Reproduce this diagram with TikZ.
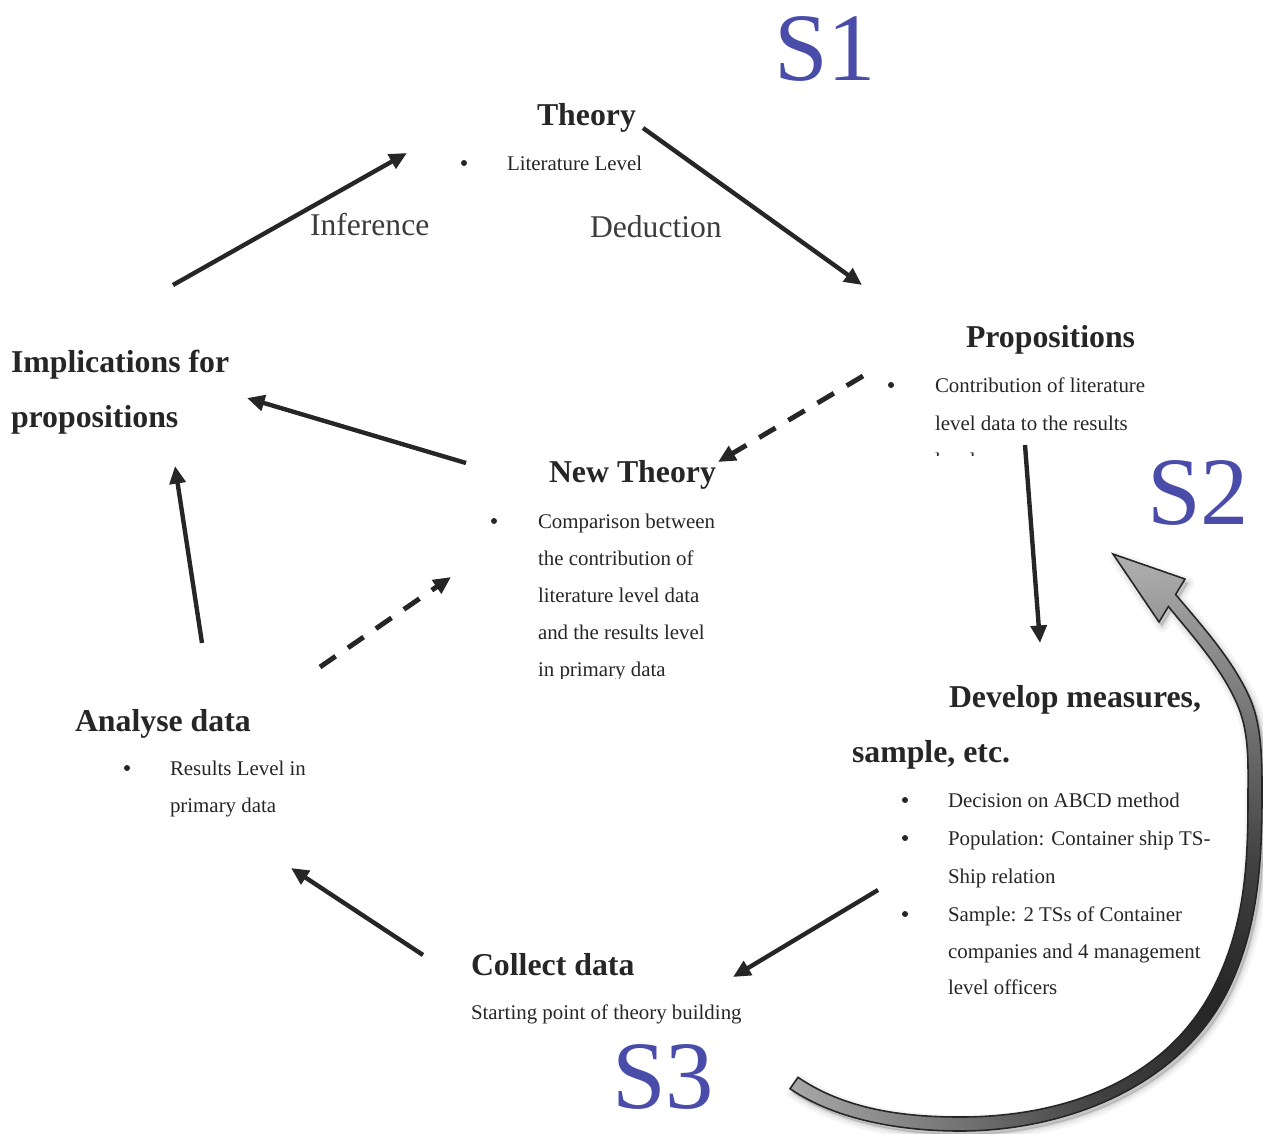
\documentclass[tikz,border=0pt]{standalone}
\usepackage{fontspec}
\setmainfont{Liberation Serif}
\usetikzlibrary{arrows.meta}
\definecolor{ink}{HTML}{262626}
\definecolor{sblue}{HTML}{4A4CAA}
% radial shading for the return arrow: dark near its lower right, light at both ends
% (25bp of the shading is stretched to the half side of the shaded square)
\pgfdeclareradialshading{arcshade}{\pgfpoint{0bp}{0bp}}{%
  color(0bp)=(black!86); color(8bp)=(black!74); color(15bp)=(black!55);
  color(23bp)=(black!34); color(25bp)=(black!31); color(50bp)=(black!31)}
\begin{document}
\begin{tikzpicture}[x=0.02cm,y=-0.02cm,
  every node/.style={inner sep=0pt, outer sep=0pt, text=ink},
  head/.style={font=\fontsize{18.1}{20}\selectfont\bfseries, anchor=base west},
  body/.style={font=\fontsize{11.9}{14}\selectfont, anchor=base west},
  phase/.style={font=\fontsize{18}{20}\selectfont, anchor=base west, text=ink!90},
  stage/.style={font=\fontsize{55}{60}\selectfont, anchor=base west, text=sblue},
  link/.style={draw=ink, line width=2.5pt, -{Triangle[length=10pt,width=9pt]}},
  dlink/.style={link, line width=2.8pt, dash pattern=on 10.8pt off 8.5pt},
  dot/.style={fill=ink}]
\useasboundingbox (0,0) rectangle (1263,1133);

% ---------- stage markers ----------
\node[stage] (s1) at (774,80) {S1};
\node[stage] (s2) at (1147,524) {S2};
\node[stage] (s3) at (612,1108) {S3};

% ---------- Theory ----------
\node[head] (theory) at (537,125) {Theory};
\fill[dot] (464,163) circle (3);
\node[body] (theory-l1) at (507,170) {Literature Level};

\node[phase] (inference) at (310,235) {Inference};
\node[phase] (deduction) at (590,237) {Deduction};

% ---------- Propositions ----------
\node[head] (prop) at (966,347) {Propositions};
\fill[dot] (891,385) circle (3);
\node[body] (prop-l1) at (935,392) {Contribution of literature};
\node[body] (prop-l2) at (935,430) {level data to the results};
\begin{scope}
  \clip (925,440) rectangle (1000,455.5);
  \node[body] (prop-l3) at (935,467) {level};
\end{scope}

% ---------- New Theory ----------
\node[head] (newth) at (549,482) {New Theory};
\fill[dot] (494,521) circle (3);
\begin{scope}
  \clip (530,500) rectangle (740,678);
  \node[body] (newth-l1) at (538,528) {Comparison between};
  \node[body] (newth-l2) at (538,565) {the contribution of};
  \node[body] (newth-l3) at (538,602) {literature level data};
  \node[body] (newth-l4) at (538,639) {and the results level};
  \node[body] (newth-l5) at (538,676) {in primary data};
\end{scope}

% ---------- Implications ----------
\node[head] (impl-1) at (11,372) {Implications for};
\node[head] (impl-2) at (11,427) {propositions};

% ---------- Analyse data ----------
\node[head] (anal) at (75,731) {Analyse data};
\fill[dot] (127,768) circle (3);
\node[body] (anal-l1) at (170,775) {Results Level in};
\node[body] (anal-l2) at (170,812) {primary data};

% ---------- Collect data ----------
\node[head] (coll) at (471,975) {Collect data};
\node[body] (coll-l1) at (471,1019) {Starting point of theory building};

% ---------- Develop measures ----------
\node[head] (dev-1) at (949,707) {Develop measures,};
\node[head] (dev-2) at (852,762) {sample, etc.};
\fill[dot] (905,800) circle (3);
\fill[dot] (905,838) circle (3);
\fill[dot] (905,914) circle (3);
\node[body] (dev-l1) at (948,807) {Decision on ABCD method};
\node[body] (dev-l2) at (948,845) {Population: Container ship TS-};
\node[body] (dev-l3) at (948,883) {Ship relation};
\node[body] (dev-l4) at (948,921) {Sample: 2 TSs of Container};
\node[body] (dev-l5) at (948,958) {companies and 4 management};
\node[body] (dev-l6) at (948,994) {level officers};

% ---------- connector ends ----------
\coordinate (theory-out) at (643,128);
\coordinate (prop-in)    at (862,285);
\coordinate (impl-up)    at (173,285);
\coordinate (theory-in)  at (407,153);
\coordinate (prop-dash)  at (863,376);
\coordinate (newth-in)   at (718,462);
\coordinate (prop-down)  at (1025,445);
\coordinate (dev-in)     at (1040,643);
\coordinate (newth-out)  at (466,463);
\coordinate (impl-in)    at (247,398);
\coordinate (anal-up)    at (202,643);
\coordinate (impl-low)   at (175,466);
\coordinate (anal-dash)  at (320,667);
\coordinate (newth-low)  at (451,577);
\coordinate (coll-out)   at (423,955);
\coordinate (anal-in)    at (291,868);
\coordinate (dev-out)    at (878,890);
\coordinate (coll-in)    at (733,977);

\draw[link]  (theory-out) -- (prop-in);
\draw[link]  (impl-up)    -- (theory-in);
\draw[dlink] (prop-dash)  -- (newth-in);
\draw[link]  (prop-down)  -- (dev-in);
\draw[link]  (newth-out)  -- (impl-in);
\draw[link]  (anal-up)    -- (impl-low);
\draw[dlink] (anal-dash)  -- (newth-low);
\draw[link]  (coll-out)   -- (anal-in);
\draw[link]  (dev-out)    -- (coll-in);

% ---------- return arrow from S3 back to S2 ----------
\def\retarrow{
  (790,1088.7) .. controls (837,1120.7) and (903,1131) .. (960,1131)
  .. controls (1070,1131) and (1186.4,1082.9) .. (1231.4,982.9)
  .. controls (1258.4,923.9) and (1262,860) .. (1262,795)
  .. controls (1262,763) and (1262.4,726.1) .. (1249.4,697.1)
  .. controls (1233,660.7) and (1204.3,628.4) .. (1175.6,594.5)
  -- (1185,579) -- (1113,554) -- (1159,622) -- (1168.4,606.5)
  .. controls (1193.8,637.6) and (1220.2,666.5) .. (1236.6,702.9)
  .. controls (1249.6,731.9) and (1248,763) .. (1248,795)
  .. controls (1248,860) and (1245.6,918.1) .. (1218.6,977.1)
  .. controls (1173.6,1077.1) and (1070,1117) .. (960,1117)
  .. controls (903,1117) and (845,1109.3) .. (798,1077.3)
  -- cycle}
% soft shadow under the arrow
\begin{scope}[shift={(3,4)}]
  \foreach \lw/\op in {7/0.04, 4/0.05, 1.5/0.07}
    \path[fill=black, draw=black, line width=\lw pt, opacity=\op, line join=round] \retarrow;
\end{scope}
\begin{scope}
  \clip \retarrow;
  \shade[shading=arcshade] (745,530) rectangle (1705,1490);
\end{scope}
\draw[ink, line width=0.9pt, line join=miter] \retarrow;
\end{tikzpicture}
\end{document}
